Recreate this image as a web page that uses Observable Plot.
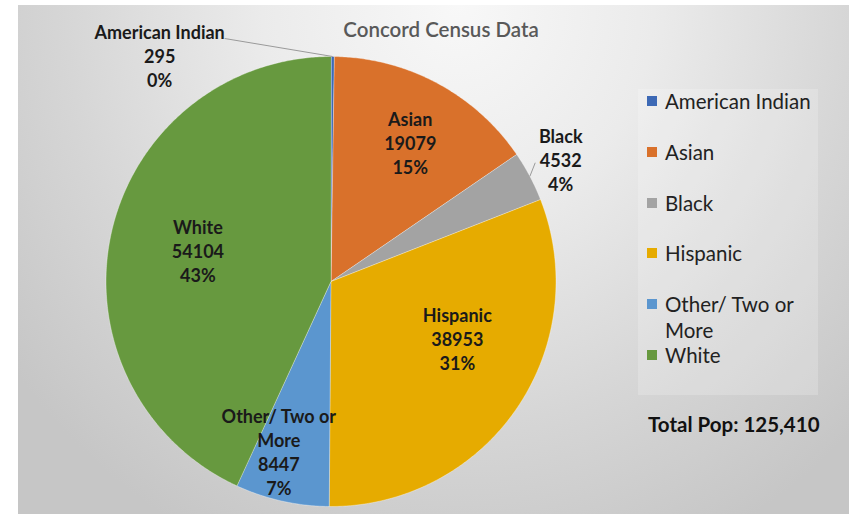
<!DOCTYPE html>
<html><head><meta charset="utf-8">
<script src="https://cdn.jsdelivr.net/npm/d3@7"></script>
<script src="https://cdn.jsdelivr.net/npm/@observablehq/plot@0.6"></script>
<style>
html,body{margin:0;padding:0;background:#fff;}
#wrap{position:relative;width:849px;height:514px;overflow:hidden;background:#fff;font-family:Lato,"Open Sans",sans-serif;}
#bg{position:absolute;left:18px;top:5px;right:0;bottom:0;
  background:radial-gradient(ellipse 560px 600px at 440px 0px,#f8f8f8 0%,#ebebeb 35%,#d6d6d6 70%,#c6c6c6 100%);}
#chart{position:absolute;left:0;top:0;}
#title{position:absolute;left:241px;width:400px;top:17px;text-align:center;font-size:20.5px;line-height:24px;color:#595959;font-weight:600;}
#legend{position:absolute;left:638px;top:89px;width:180px;height:306px;background:rgba(255,255,255,0.2);}
.item{position:absolute;left:9px;font-size:20.5px;line-height:26px;color:#222;white-space:nowrap;}
.sw{position:absolute;left:0;top:8px;width:10px;height:10px;}
.lt{position:absolute;left:18px;top:0;}
#total{position:absolute;left:648px;top:412px;font-size:20.5px;font-weight:bold;color:#111;line-height:24px;white-space:nowrap;}
</style></head><body>
<div id="wrap"><div id="bg"></div><div id="chart"></div><div id="title"></div><div id="legend"></div><div id="total"></div></div>
<script>
const title = "Concord Census Data";
const categories = ["American Indian","Asian","Black","Hispanic","Other/ Two or More","White"];
const values = [295, 19079, 4532, 38953, 8447, 54104];
const colors = ["#3d69b5","#d9712b","#a3a3a3","#e6ab00","#5b96cf","#67993f"];
const totalPrefix = "Total Pop: ";

const total = d3.sum(values);
const R = 225; // pie radius in px
const wrapName = s => s.replace(" or ", " or\n");

let acc = 0;
const slices = categories.map((c, i) => {
  const a0 = acc / total * 2 * Math.PI; acc += values[i];
  const a1 = acc / total * 2 * Math.PI;
  return {category: c, value: values[i], a0, a1, share: values[i] / total};
});

const pts = slices.flatMap(s => {
  const n = Math.max(2, Math.ceil((s.a1 - s.a0) / (Math.PI / 360)));
  const arr = [{category: s.category, x: 0, y: 0}];
  for (let k = 0; k <= n; k++) {
    const a = s.a0 + (s.a1 - s.a0) * k / n;
    arr.push({category: s.category, x: Math.sin(a), y: Math.cos(a)});
  }
  return arr;
});

// label placement (Excel "best fit" approximations), nudges in px
const nudge = {"Asian":[9,-8],"Hispanic":[4,-27],"White":[12,1],"Other/ Two or More":[-13,-6],"Black":[-1,0],"American Indian":[-173,-1]};
const labels = slices.map(s => {
  const m = (s.a0 + s.a1) / 2;
  const r = s.share < 0.01 ? 1 : s.share < 0.05 ? 1.16 : s.share < 0.1 ? 0.8 : 0.66;
  const [nx, ny] = nudge[s.category] || [0, 0];
  return {
    x: r * Math.sin(m) + nx / R,
    y: r * Math.cos(m) - ny / R,
    text: `${wrapName(s.category)}\n${s.value}\n${Math.round(s.share * 100)}%`
  };
});

const leaders = slices.filter(s => s.share < 0.05).map(s => {
  const m = (s.a0 + s.a1) / 2;
  const x1 = Math.sin(m), y1 = Math.cos(m);
  if (s.share < 0.01) return {x1, y1, x2: x1 - 108 / R, y2: y1 + 18 / R};
  return {x1, y1, x2: 1.05 * Math.sin(m - 0.04), y2: 1.05 * Math.cos(m - 0.04)};
});

const chart = Plot.plot({
  width: 849, height: 514, margin: 0,
  x: {domain: [-1, 1], range: [330.5 - R, 330.5 + R], axis: null},
  y: {domain: [-1, 1], range: [281 + R, 281 - R], axis: null},
  color: {type: "ordinal", domain: categories, range: colors},
  style: {background: "transparent", overflow: "visible"},
  marks: [
    Plot.line(pts, {x: "x", y: "y", z: "category", fill: "category", stroke: "#ffffff", strokeOpacity: 0.5, strokeWidth: 0.7, curve: "linear-closed"}),
    Plot.link(leaders, {x1: "x1", y1: "y1", x2: "x2", y2: "y2", stroke: "#9a9a9a", strokeWidth: 1}),
    Plot.text(labels, {x: "x", y: "y", text: "text", fontSize: 18, fontWeight: "bold", fontFamily: "Lato", lineHeight: 1.33, fill: "#1a1a1a"})
  ]
});
document.getElementById("chart").appendChild(chart);
document.getElementById("title").textContent = title;
document.getElementById("total").textContent = totalPrefix + d3.format(",")(total);

const legend = document.getElementById("legend");
categories.forEach((c, i) => {
  const it = document.createElement("div");
  it.className = "item";
  it.style.top = (-1 + i * 50.8) + "px";
  const sw = document.createElement("div");
  sw.className = "sw"; sw.style.background = colors[i];
  const lt = document.createElement("div");
  lt.className = "lt";
  lt.innerHTML = wrapName(c).replace("\n", "<br>");
  it.appendChild(sw); it.appendChild(lt);
  legend.appendChild(it);
});
</script>
</body></html>
